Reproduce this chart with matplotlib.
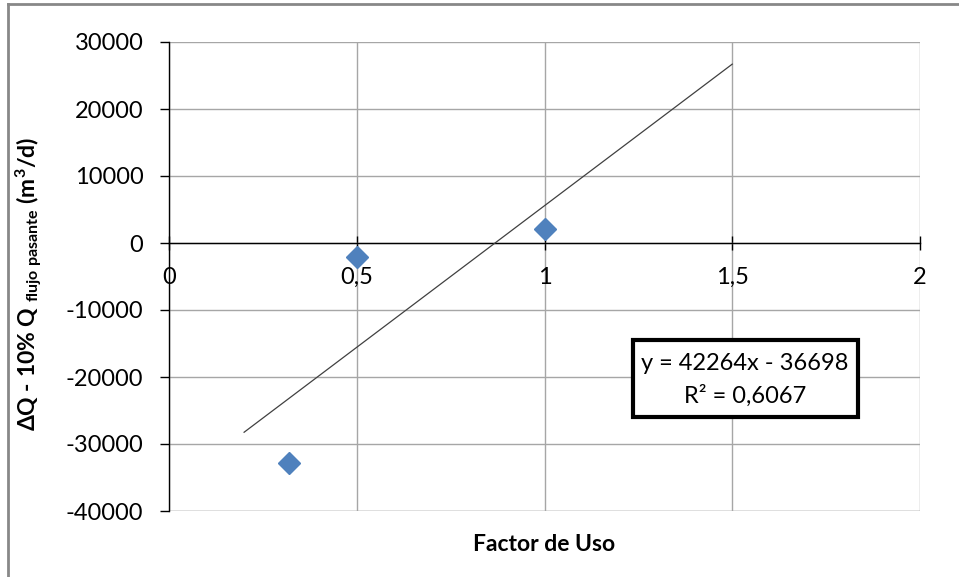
import matplotlib
matplotlib.use("Agg")
import matplotlib.pyplot as plt
from matplotlib.lines import Line2D
from matplotlib.patches import Rectangle

plt.rcParams['font.family'] = ['Lato', 'DejaVu Sans']
plt.rcParams['mathtext.fontset'] = 'custom'
plt.rcParams['mathtext.rm'] = 'Lato:bold'
plt.rcParams['mathtext.it'] = 'Lato:bold:italic'
plt.rcParams['mathtext.bf'] = 'Lato:bold'

# Data
factor_uso = [0.32, 0.5, 1.0]
delta_q = [-32800, -2100, 2100]
trend_x = [0.2, 1.5]
slope = 42264
intercept = -36698
r2_text = "0,6067"
x_ticks = [0, 0.5, 1, 1.5, 2]
x_labels = ["0", "0,5", "1", "1,5", "2"]
y_ticks = [-40000, -30000, -20000, -10000, 0, 10000, 20000, 30000]
y_labels = [str(v) for v in y_ticks]

fig = plt.figure(figsize=(9.59, 5.77), dpi=100)
ax = fig.add_axes([169/959, 1-511/577, (920-169)/959, (511-42)/577])

ax.set_xlim(0, 2)
ax.set_ylim(-40000, 30000)
ax.set_xticks(x_ticks)
ax.set_xticklabels(x_labels)
ax.set_yticks(y_ticks)
ax.set_yticklabels(y_labels)

ax.grid(True, color='#A6A6A6', lw=1.0)
ax.set_axisbelow(True)
for s in ['top', 'right']:
    ax.spines[s].set_visible(False)
ax.spines['left'].set_color('black')
ax.spines['left'].set_linewidth(1.0)
ax.spines['bottom'].set_position(('data', 0))
ax.spines['bottom'].set_color('black')
ax.spines['bottom'].set_linewidth(1.0)
ax.axhline(-40000, color='#A6A6A6', lw=1.0, zorder=0.5)

ax.tick_params(axis='y', direction='out', length=6.5, width=1, pad=12,
               labelsize=17, colors='black')
ax.tick_params(axis='x', direction='inout', length=10, width=1, pad=12,
               labelsize=17, colors='black')

# trendline
ty = [slope * x + intercept for x in trend_x]
ax.plot(trend_x, ty, color='#404040', lw=0.9, zorder=3)

# points
ax.plot(factor_uso, delta_q, linestyle='none', marker='D', markersize=11,
        color='#4F81BD', markeredgecolor='#4F81BD', zorder=4)

ax.set_xlabel("Factor de Uso", fontsize=16.5, fontweight='bold', labelpad=0)
ax.xaxis.set_label_coords(0.5, -0.05)
ax.set_ylabel(r"ΔQ - 10% Q $_{\mathrm{flujo\ pasante}}$ (m$^{3}$/d)",
              fontsize=16.5, fontweight='bold')
ax.yaxis.set_label_coords(-0.165, 0.485)

# equation box
fig.patches.append(Rectangle((633/959, 1-417/577), (858-633)/959, (417-340)/577,
                             transform=fig.transFigure, fill=True, facecolor='white',
                             edgecolor='black', lw=3, zorder=5))
fig.text(745/959, 1-364/577, f"y = {slope}x - {abs(intercept)}", ha='center',
         va='center', fontsize=17, zorder=6)
fig.text(745/959, 1-396/577, f"R² = {r2_text}", ha='center', va='center',
         fontsize=17, zorder=6)

# outer frame (left and top)
fig.add_artist(Line2D([8/959, 8/959], [0, 1-4/577], transform=fig.transFigure,
                      color='#888888', lw=2))
fig.add_artist(Line2D([8/959, 1], [1-4/577, 1-4/577], transform=fig.transFigure,
                      color='#888888', lw=2))

fig.savefig("out.png", dpi=100)
